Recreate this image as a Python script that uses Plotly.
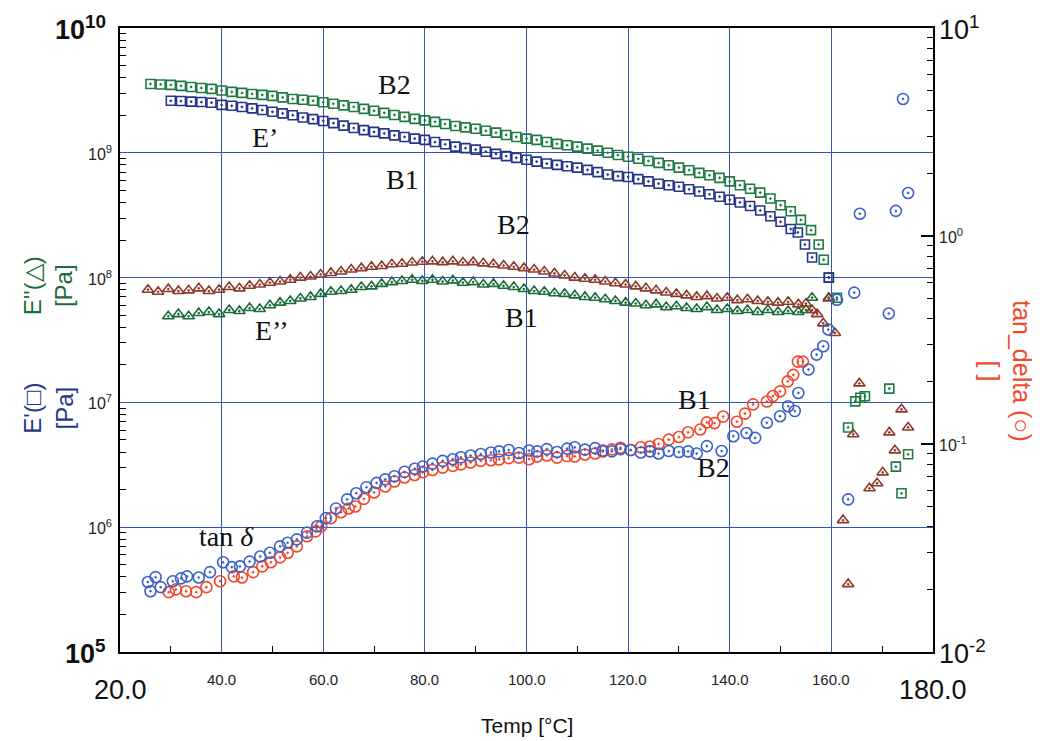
import math
import plotly.graph_objects as go

# ---------------- data ----------------
# E' (storage modulus) B2 - green squares
ep_b2_T = [26, 28, 30, 32, 34, 36, 38, 40, 42, 44, 46, 48, 50, 52, 54, 56, 58, 60, 62, 64, 66, 68, 70,
           72, 74, 76, 78, 80, 82, 84, 86, 88, 90, 92, 94, 96, 98, 100, 102, 104, 106, 108, 110, 112,
           114, 116, 118, 120, 122, 124, 126, 128, 130, 132, 134, 136, 138, 140, 142, 144, 146, 148,
           150, 152, 154, 156, 157.5, 158.5, 159.5, 161.1,
           163.3, 164.7, 165.7, 166.6, 171.4, 172.7, 173.8, 175.1]
ep_b2_v = [3.56e9, 3.53e9, 3.50e9, 3.44e9, 3.37e9, 3.31e9, 3.25e9, 3.16e9, 3.08e9, 3.02e9, 2.96e9,
           2.91e9, 2.86e9, 2.78e9, 2.70e9, 2.66e9, 2.61e9, 2.54e9, 2.47e9, 2.40e9, 2.33e9, 2.25e9,
           2.17e9, 2.09e9, 2.01e9, 1.94e9, 1.87e9, 1.82e9, 1.77e9, 1.70e9, 1.64e9, 1.60e9, 1.56e9,
           1.50e9, 1.45e9, 1.39e9, 1.34e9, 1.30e9, 1.27e9, 1.22e9, 1.18e9, 1.15e9, 1.12e9, 1.08e9,
           1.04e9, 1.00e9, 9.6e8, 9.3e8, 8.95e8, 8.6e8, 8.3e8, 7.95e8, 7.6e8, 7.25e8, 6.9e8, 6.6e8,
           6.3e8, 5.9e8, 5.5e8, 5.15e8, 4.8e8, 4.3e8, 3.8e8, 3.4e8, 2.9e8, 2.4e8, 1.84e8, 1.39e8,
           1.0e8, 6.9e7,
           6.3e6, 1.02e7, 1.09e7, 1.12e7, 1.29e7, 3.06e6, 1.87e6, 3.84e6]

# E' B1 - navy squares
ep_b1_T = [30, 32, 34, 36, 38, 40, 42, 44, 46, 48, 50, 52, 54, 56, 58, 60, 62, 64, 66, 68, 70, 72, 74,
           76, 78, 80, 82, 84, 86, 88, 90, 92, 94, 96, 98, 100, 102, 104, 106, 108, 110, 112, 114, 116,
           118, 120, 122, 124, 126, 128, 130, 132, 134, 136, 138, 140, 142, 144, 146, 148, 150, 152,
           153.4, 154.8, 156.2, 159.5]
ep_b1_v = [2.61e9, 2.60e9, 2.57e9, 2.55e9, 2.52e9, 2.42e9, 2.38e9, 2.33e9, 2.27e9, 2.20e9, 2.13e9,
           2.07e9, 2.00e9, 1.92e9, 1.86e9, 1.80e9, 1.73e9, 1.65e9, 1.58e9, 1.52e9, 1.47e9, 1.43e9,
           1.38e9, 1.34e9, 1.30e9, 1.27e9, 1.22e9, 1.17e9, 1.12e9, 1.09e9, 1.06e9, 1.02e9, 9.8e8,
           9.4e8, 9.1e8, 8.8e8, 8.5e8, 8.2e8, 8.0e8, 7.8e8, 7.6e8, 7.3e8, 7.0e8, 6.7e8, 6.5e8, 6.4e8,
           6.15e8, 5.9e8, 5.65e8, 5.5e8, 5.35e8, 5.1e8, 4.9e8, 4.65e8, 4.45e8, 4.2e8, 4.0e8, 3.75e8,
           3.45e8, 3.1e8, 2.8e8, 2.45e8, 2.3e8, 1.84e8, 1.45e8, 1.0e8]

# E'' (loss modulus) B2 - brown triangles
epp_b2_T = [25.5, 27.5, 29.5, 31.5, 33.5, 35.5, 37.5, 39.5, 41.5, 43.5, 45.5, 47.5, 49.5, 51.5, 53.5,
            55.5, 57.5, 59.5, 61.5, 63.5, 65.5, 67.5, 69.5, 71.5, 73.5, 75.5, 77.5, 79.5, 81.5, 83.5,
            85.5, 87.5, 89.5, 91.5, 93.5, 95.5, 97.5, 99.5, 101.5, 103.5, 105.5, 107.5, 109.5, 111.5,
            113.5, 115.5, 117.5, 119.5, 121.5, 123.5, 125.5, 127.5, 129.5, 131.5, 133.5, 135.5, 137.5,
            139.5, 141.5, 143.5, 145.5, 147.5, 149.5, 151.5, 153.5, 155.0, 156.2, 157.2, 158.4, 159.5,
            160.7,
            162.3, 163.3, 164.3, 165.5, 167.5, 169.0, 170.1, 171.4, 172.5, 173.8, 175.1]
epp_b2_v = [8.0e7, 7.7e7, 8.1e7, 7.8e7, 7.9e7, 8.2e7, 7.8e7, 8.0e7, 8.4e7, 8.2e7, 8.6e7, 8.8e7, 9.1e7,
            9.3e7, 9.6e7, 1.0e8, 1.02e8, 1.06e8, 1.09e8, 1.12e8, 1.16e8, 1.19e8, 1.22e8, 1.24e8, 1.28e8,
            1.29e8, 1.32e8, 1.34e8, 1.35e8, 1.33e8, 1.35e8, 1.32e8, 1.33e8, 1.30e8, 1.28e8, 1.25e8,
            1.22e8, 1.19e8, 1.16e8, 1.12e8, 1.08e8, 1.04e8, 1.0e8, 9.8e7, 9.6e7, 9.3e7, 9.0e7, 8.8e7,
            8.5e7, 8.2e7, 7.9e7, 7.6e7, 7.4e7, 7.2e7, 7.0e7, 7.1e7, 6.8e7, 6.9e7, 6.6e7, 6.7e7, 6.5e7,
            6.4e7, 6.3e7, 6.4e7, 6.1e7, 6.2e7, 5.5e7, 5.1e7, 4.3e7, 6.8e7, 3.6e7,
            1.14e6, 3.5e5, 5.55e6, 1.42e7, 2.05e6, 2.25e6, 2.75e6, 5.75e6, 4.13e6, 8.8e6, 6.3e6]

# E'' B1 - green triangles
epp_b1_T = [29.5, 31.5, 33.5, 35.5, 37.5, 39.5, 41.5, 43.5, 45.5, 47.5, 49.5, 51.5, 53.5, 55.5, 57.5,
            59.5, 61.5, 63.5, 65.5, 67.5, 69.5, 71.5, 73.5, 75.5, 77.5, 79.5, 81.5, 83.5, 85.5, 87.5,
            89.5, 91.5, 93.5, 95.5, 97.5, 99.5, 101.5, 103.5, 105.5, 107.5, 109.5, 111.5, 113.5, 115.5,
            117.5, 119.5, 121.5, 123.5, 125.5, 127.5, 129.5, 131.5, 133.5, 135.5, 137.5, 139.5, 141.5,
            143.5, 145.5, 147.5, 149.5, 151.5, 153.5, 155.0, 156.2, 159.5]
epp_b1_v = [4.9e7, 5.1e7, 4.9e7, 5.2e7, 5.3e7, 5.1e7, 5.5e7, 5.4e7, 5.7e7, 5.6e7, 6.0e7, 6.3e7, 6.5e7,
            6.8e7, 7.0e7, 7.4e7, 7.7e7, 7.8e7, 8.0e7, 8.4e7, 8.5e7, 8.9e7, 9.2e7, 9.4e7, 9.6e7, 9.4e7,
            9.6e7, 9.3e7, 9.5e7, 9.1e7, 9.2e7, 8.8e7, 8.9e7, 8.6e7, 8.4e7, 8.1e7, 7.8e7, 7.7e7, 7.5e7,
            7.4e7, 7.2e7, 7.0e7, 6.9e7, 6.7e7, 6.5e7, 6.3e7, 6.2e7, 6.0e7, 6.1e7, 5.8e7, 5.9e7, 5.7e7,
            5.6e7, 5.8e7, 5.5e7, 5.6e7, 5.4e7, 5.5e7, 5.3e7, 5.5e7, 5.3e7, 5.4e7, 5.3e7, 5.5e7, 6.9e7,
            6.9e7]

# tan delta B2 - blue circles
td_b2_T = [25.5, 26.0, 27.0, 28.0, 30.4, 32.0, 33.2, 35.5, 37.7, 40.3, 42.0, 43.6, 45.5, 47.6, 49.5,
           51.5, 53.0, 54.8, 56.8, 58.8, 60.5, 62.5, 64.7, 66.5, 68.5, 70.5, 72.2, 74.0, 76.0, 78.0,
           79.6, 81.5, 83.5, 85.5, 87.1, 89.0, 91.0, 93.0, 94.6, 96.5, 98.5, 100.5, 102.1, 104.0,
           106.0, 108.0, 109.5, 111.5, 113.5, 115.0, 116.8, 118.5, 120.5, 122.5, 124.3, 126.0, 128.0,
           130.0, 131.8, 133.5, 135.5, 138.4, 140.7, 143.3, 145.0, 147.3, 149.9, 151.5, 152.8, 153.5,
           155.5, 157.1, 158.4, 159.4, 161.1,
           163.3, 164.5, 165.6, 171.3, 172.7, 174.1, 175.1]
td_b2_v = [0.0217, 0.0196, 0.0229, 0.0205, 0.0219, 0.0226, 0.0231, 0.0228, 0.0242, 0.0270, 0.0256,
           0.0258, 0.0272, 0.0288, 0.0300, 0.0322, 0.0335, 0.0348, 0.0375, 0.0402, 0.0440, 0.0490,
           0.0542, 0.0580, 0.0620, 0.0650, 0.0676, 0.0700, 0.0735, 0.0760, 0.0780, 0.0805, 0.0830,
           0.0845, 0.0863, 0.0880, 0.0895, 0.0910, 0.0922, 0.0935, 0.0905, 0.0930, 0.0922, 0.0945,
           0.0915, 0.0950, 0.0964, 0.0940, 0.0955, 0.0930, 0.0922, 0.0945, 0.0935, 0.0910, 0.0922,
           0.0900, 0.0925, 0.0915, 0.0922, 0.0900, 0.0977, 0.0925, 0.109, 0.113, 0.107, 0.1265, 0.136,
           0.152, 0.144, 0.176, 0.228, 0.269, 0.295, 0.355, 0.494,
           0.0542, 0.534, 1.28, 0.424, 1.32, 4.56, 1.61]

# tan delta B1 - red circles
td_b1_T = [29.6, 31.0, 33.0, 35.0, 37.0, 39.7, 42.4, 44.0, 46.2, 48.0, 49.7, 51.5, 53.0, 54.8, 56.8,
           58.5, 59.6, 61.5, 63.5, 65.0, 66.3, 68.0, 70.0, 72.2, 74.0, 76.0, 78.0, 79.6, 81.5, 83.5,
           85.5, 87.1, 89.0, 91.0, 93.0, 94.6, 96.5, 98.5, 100.5, 102.1, 104.0, 106.0, 108.0, 109.5,
           111.5, 113.5, 115.0, 116.8, 118.5, 120.5, 122.5, 124.3, 126.0, 128.0, 130.0, 131.8, 134.2,
           135.5, 137.0, 138.7, 141.4, 143.0, 144.6, 147.3, 148.5, 149.9, 151.4, 152.5, 153.4, 154.4]
td_b1_v = [0.0194, 0.0200, 0.0196, 0.0194, 0.0205, 0.0219, 0.0231, 0.0228, 0.0242, 0.0258, 0.0270,
           0.0285, 0.0300, 0.0322, 0.0360, 0.0380, 0.0402, 0.0440, 0.0470, 0.0490, 0.0501, 0.0545,
           0.0585, 0.0625, 0.0660, 0.0690, 0.0710, 0.0731, 0.0750, 0.0770, 0.0785, 0.0798, 0.0815,
           0.0830, 0.0835, 0.0843, 0.0855, 0.0860, 0.0845, 0.0871, 0.0880, 0.0860, 0.0875, 0.0871,
           0.0890, 0.0900, 0.0920, 0.0942, 0.0960, 0.0935, 0.0965, 0.0973, 0.1000, 0.1050, 0.1080,
           0.1138, 0.1175, 0.127, 0.126, 0.1355, 0.128, 0.140, 0.155, 0.160, 0.170, 0.179, 0.200,
           0.215, 0.249, 0.249]

# tick labels
x_small_ticks = [40, 60, 80, 100, 120, 140, 160]
x_small_labels = ["40.0", "60.0", "80.0", "100.0", "120.0", "140.0", "160.0"]
x_end_ticks = [20, 180]
x_end_labels = ["20.0", "180.0"]
yl_small_exps = [6, 7, 8, 9]
yl_end_exps = [5, 10]
yr_small_exps = [-1, 0]
yr_end_exps = [-2, 1]

# curve labels (text, temperature, value on left axis)
curve_labels = [
    ("B2", 74.0, 10 ** 9.544),
    ("E\u2019", 48.5, 10 ** 9.12),
    ("B1", 75.5, 10 ** 8.79),
    ("B2", 97.5, 10 ** 8.424),
    ("E\u2019\u2019", 50.0, 10 ** 7.58),
    ("B1", 99.0, 10 ** 7.68),
    ("B1", 133.0, 10 ** 7.024),
    ("B2", 136.8, 10 ** 6.48),
    ("tan <i>\u03b4</i>", 41.0, 10 ** 5.928),
]

# ---------------- styles ----------------
C_EP_B2 = "#1f7a43"
C_EP_B1 = "#24358a"
C_EPP_B2 = "#8c3a2a"
C_EPP_B1 = "#1c6b3a"
C_TD_B2 = "#3c62c8"
C_TD_B1 = "#f2472b"
GRID = "#3553b8"
SANS = "Liberation Sans, Arial, sans-serif"
SERIF = "Liberation Serif, Times New Roman, serif"

fig = go.Figure()


def add(T, v, sym, color, size, yaxis="y", name=""):
    fig.add_trace(go.Scatter(
        x=T, y=v, mode="markers", yaxis=yaxis, name=name, showlegend=False,
        marker=dict(symbol=sym, size=size, color=color, line=dict(color=color, width=1.6)),
    ))


add(epp_b1_T, epp_b1_v, "triangle-up-open-dot", C_EPP_B1, 10, name="E'' B1")
add(epp_b2_T, epp_b2_v, "triangle-up-open-dot", C_EPP_B2, 10, name="E'' B2")
add(ep_b2_T, ep_b2_v, "square-open-dot", C_EP_B2, 9, name="E' B2")
add(ep_b1_T, ep_b1_v, "square-open-dot", C_EP_B1, 9, name="E' B1")
add(td_b1_T, td_b1_v, "circle-open-dot", C_TD_B1, 11, yaxis="y2", name="tan_delta B1")
add(td_b2_T, td_b2_v, "circle-open-dot", C_TD_B2, 11, yaxis="y2", name="tan_delta B2")

left_minor = [m * 10 ** e for e in range(5, 10) for m in range(2, 10)]
right_minor = [m * 10 ** e for e in range(-2, 1) for m in range(2, 10)]

fig.update_layout(
    width=1040, height=741,
    margin=dict(l=120, r=107, t=28, b=89),
    paper_bgcolor="white", plot_bgcolor="white",
    xaxis=dict(
        range=[20, 180], tick0=20, dtick=20, showgrid=True, gridcolor=GRID, gridwidth=1.3,
        zeroline=False, showline=True, linecolor="black", linewidth=2, mirror=True,
        ticks="", showticklabels=False,
        minor=dict(tickvals=[30, 50, 70, 90, 110, 130, 150, 170], ticks="inside", ticklen=6,
                   tickcolor="black", tickwidth=1.3, showgrid=False),
    ),
    yaxis=dict(
        type="log", range=[5, 10], dtick=1, showgrid=True, gridcolor=GRID, gridwidth=1.3,
        zeroline=False, showline=True, linecolor="black", linewidth=2,
        ticks="", showticklabels=False,
        minor=dict(tickvals=left_minor, ticks="inside", ticklen=6, tickcolor="black",
                   tickwidth=1.3, showgrid=False),
    ),
    yaxis2=dict(
        type="log", range=[-2, 1], dtick=1, overlaying="y", side="right", showgrid=False,
        zeroline=False, showline=True, linecolor="black", linewidth=2,
        ticks="inside", ticklen=12, tickcolor="black", tickwidth=1.5, showticklabels=False,
        minor=dict(tickvals=right_minor, ticks="inside", ticklen=6, tickcolor="black",
                   tickwidth=1.3),
    ),
)

ann = []
# x tick labels
for t, lab in zip(x_small_ticks, x_small_labels):
    ann.append(dict(x=t, y=0, xref="x", yref="paper", yanchor="middle", yshift=-27, text=lab,
                    showarrow=False, font=dict(family=SANS, size=15, color="#222")))
for t, lab in zip(x_end_ticks, x_end_labels):
    ann.append(dict(x=t, y=0, xref="x", yref="paper", yanchor="middle", yshift=-38, text=lab,
                    showarrow=False, font=dict(family=SANS, size=27, color="#111")))
# left y tick labels
for e in yl_small_exps:
    ann.append(dict(x=0, y=e, xref="paper", yref="y", xanchor="right", xshift=-6,
                    text=f"10<sup>{e}</sup>", showarrow=False,
                    font=dict(family=SANS, size=16, color="#222")))
for e in yl_end_exps:
    ann.append(dict(x=0, y=e, xref="paper", yref="y", xanchor="right", xshift=-12,
                    text=f"<b>10<sup>{e}</sup></b>", showarrow=False,
                    font=dict(family=SANS, size=27, color="#111")))
# right y tick labels
for e in yr_small_exps:
    ann.append(dict(x=1, y=e, xref="paper", yref="y2", xanchor="left", xshift=4,
                    text=f"10<sup>{e}</sup>", showarrow=False,
                    font=dict(family=SANS, size=16, color="#222")))
for e in yr_end_exps:
    ann.append(dict(x=1, y=e, xref="paper", yref="y2", xanchor="left", xshift=4,
                    text=f"10<sup>{e}</sup>", showarrow=False,
                    font=dict(family=SANS, size=27, color="#111")))
# axis titles
ann.append(dict(x=0.5, y=0, xref="paper", yref="paper", yanchor="middle", yshift=-73,
                text="Temp [\u00b0C]", showarrow=False,
                font=dict(family=SANS, size=21, color="#111")))
ann.append(dict(x=0, y=7.93, xref="paper", yref="y", xanchor="center", xshift=-72,
                text="E''(\u25b3)<br>[Pa]", textangle=-90, showarrow=False,
                font=dict(family=SANS, size=24, color=C_EPP_B1)))
ann.append(dict(x=0, y=6.95, xref="paper", yref="y", xanchor="center", xshift=-72,
                text="E'(\u25a1)<br>[Pa]", textangle=-90, showarrow=False,
                font=dict(family=SANS, size=24, color=C_EP_B1)))
ann.append(dict(x=1, y=-0.65, xref="paper", yref="y2", xanchor="center", xshift=73,
                text="tan_delta (\u25cb)<br>[ ]", textangle=90, showarrow=False,
                font=dict(family=SANS, size=25, color=C_TD_B1)))
# curve labels
for txt, t, v in curve_labels:
    ann.append(dict(x=t, y=math.log10(v), xref="x", yref="y", text=txt, showarrow=False,
                    font=dict(family=SERIF, size=28, color="#111")))

fig.update_layout(annotations=ann)
fig.write_html("out.html", config={"displayModeBar": False},
               post_script="document.body.style.margin='0px';")
